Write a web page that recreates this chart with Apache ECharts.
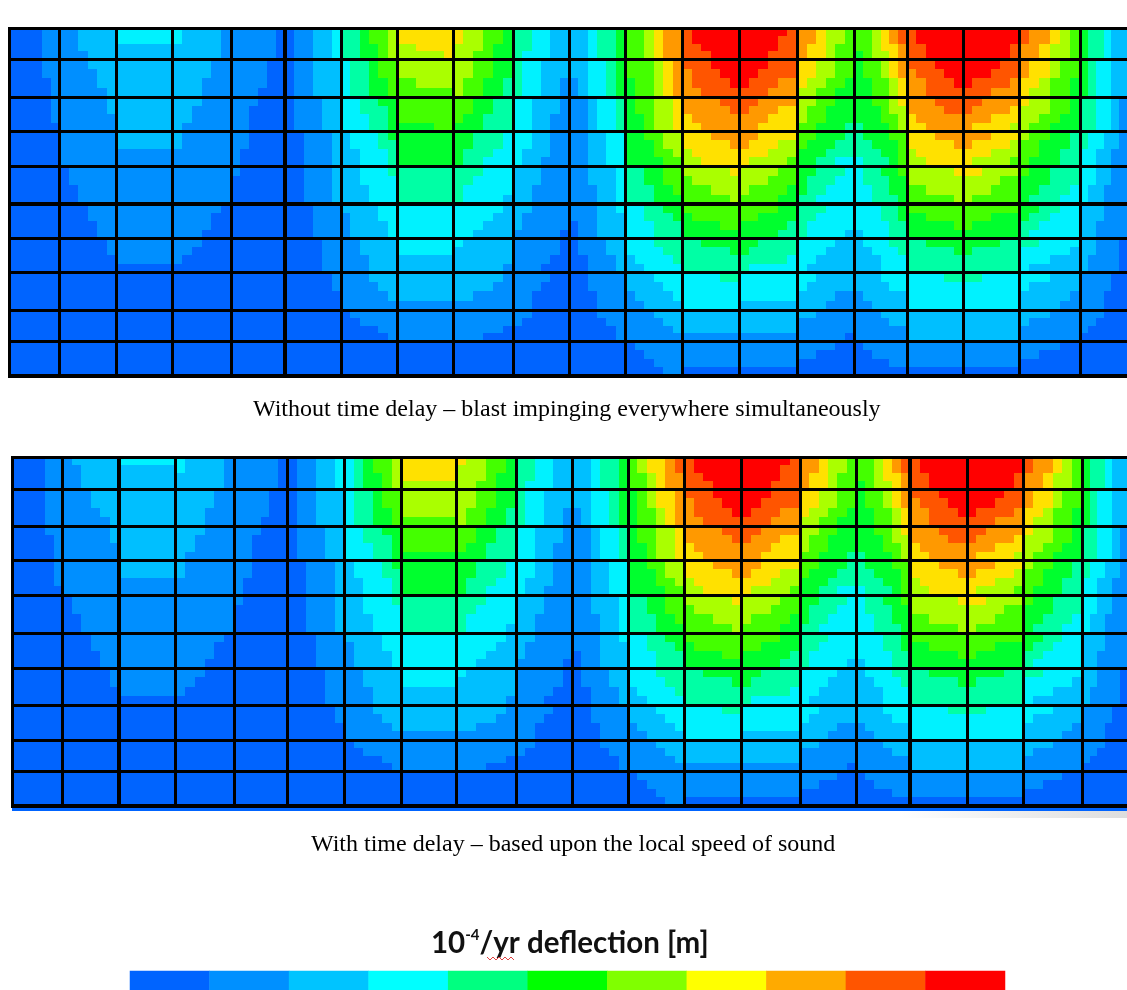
<!DOCTYPE html>
<html><head><meta charset="utf-8">
<style>html,body{margin:0;padding:0;background:#fff}#c{width:1127px;height:990px}</style>
<script src="https://cdn.jsdelivr.net/npm/echarts@6/dist/echarts.min.js"></script>
</head><body><div id="c"></div>
<script>
// Band palette of the contour plots (level 0..11, written base 12 in the rows below)
const bandColors=['#0064ff','#008fff','#00bfff','#00f2ff','#00ffa5','#00ff2e','#44ff00','#aaff00','#ffe100','#ff9900','#ff5500','#ff0000'];
const legendColors=['#0064ff','#0090ff','#00c4ff','#00ffff','#00ff80','#00ff00','#80ff00','#ffff00','#ffaa00','#ff5500','#ff0000'];
const legendTitle=['10','-4','/yr deflection [m]'];
const captionTop='Without time delay – blast impinging everywhere simultaneously';
const captionBottom='With time delay – based upon the local speed of sound';
// Mesh lines along the span and the depth
const meshXTop=[0,50,107,163,222,276,332,388,444,504,560,616,673,730,788,845,898,954,1010,1071,1118];
const meshYTop=[0,31,69,103,138,176,210,244,282,313,348];
const meshXBottom=[0,50,107,163,222,275,332,389,444,504,560,616,672,729,788,844,898,955,1011,1070,1115];
const meshYBottom=[0,32,69,103,138,176,211,248,283,314,349,354];
// Bands per mesh cell: four sub-rows of six samples (one token = same for every sub-row, one char = whole cell)
const topRow0=['000011','112222 112222 112222 111222','333333 333333 222222 222222','322221 322221 222221 222221','111110','011223','445667 445667 445567 445567','8 8 778888 777778','877665 877665 777655 776655','443322 443322 443322 433322','223445','667899','abbbbb abbbbb aabbbb aaabbb','bbbbba bbbbaa bbbbaa bbbaaa','998776 998776 988766 988766','66789a 66789a 667889 567789','abbbbb abbbbb aabbbb aabbbb','b b bbbbba bbbbba','a99876 a99876 998776 998776','544322'];
const topRow1=['000011 000011 000001 000001','111222 111122 111122 111112','2','222211 222211 222111 222111','111100 111100 111100 111000','011222','344566 344566 344556 344556','7 7 667777 6','776655 776655 766554 766554','433222 433222 433221 433221','223345 223345 123345 123345','666789 666789 566789 566789','aaabbb 9aaabb 9aaaab 99aaaa','bbbaaa bbaaaa baaa99 aaa999','887766 887766 877665 776655','566789 566789 556678 556678','aaabbb 9aaabb 99aaab 99aaaa','bbbbaa bbbaaa baaaa9 aaa999','988766 988766 887665 877665','543322'];
const topRow2=['000001 000001 000001 0','111112 111112 1 1','2','222111 221111 221111 211111','111000 110000 110000 110000','011122','334455 334445 333445 333445','6 6 6 555566','665544 665544 655444 555444','332221 332221 332211 332211','112334','566778 566778 556778 556778','9999aa 99999a 899999 889999','aa9999 a99988 999888 998888','776655 766555 766555 665554','556678 555677 555667 455567','999aaa 9999aa 899999 889999','aa9999 a99998 999888 988887','877665 777665 776655 766555','443321'];
const topRow3=['0','1','2 2 1 1','211111 211111 1 1','110000 110000 100000 100000','001112','233345 233344 223334 223334','5','554443 554443 544433 544333','332211 332211 322211 322111','112233','556677 555677 555667 555566','888999 888889 788888 778888','998888 988877 888777 877776','665554 655544 555444 554433','455566 445556 444556 344456','888999 888889 788888 778888','999888 988887 888777 877776','766554 665554 665544 655544','433221 433221 332211 332211'];
const topRow4=['0','011111 011111 001111 001111','1','1','100000 0 0 0','001112','223334 223333 222333 222333','4','444333 443333 433333 433332','222111 222111 221111 221111','112223 112223 111223 111223','445566 445566 444556 444555','777778 677777 666777 666667','777766 777666 766665 666655','554443 544433 544333 443333','344556 344455 334455 334445','777778 7 667777 666667','887777 777766 777666 766666','655444 555444 554443 544433','332211 332211 322111 322111'];
const topRow5=['0','000111 000111 000011 000011','1','111110 111100 111100 111000','0','000111','222233 122233 122223 122223','3','333332 333322 333222 332222','221111 211111 211111 111110','111223 111222 011222 011222','334455 334445 333444 333444','6 566666 555566 5','666655 665555 555554 555544','444333 443333 433333 433332','333445 333445 333344 233344','6 556666 555556 5','6 666555 655555 5','554433 544333 443333 433333','222111 222111 221111 221111'];
const topRow6=['0','000001 000001 0 0','1 1 1 0','111000 110000 100000 0','0','000011','112222 112222 111222 111222','3 3 2 2','322222 2 2 222221','111110 111110 111100 111000','011122 011122 001112 001112','333444 333344 233334 223333','445555 444445 4 4','554444 544444 444443 433333','333322 333222 332222 322222','233344 223334 222333 222333','445555 444445 4 4','555544 544444 4 4','443333 333332 333222 322222','221110 221110 211110 211110'];
const topRow7=['0','0','0','0','0','000001 000001 0 0','111222 111122 111112 1','2 2 2 1','222221 222211 221111 1','111100 111000 110000 110000','001111 001111 000111 000111','222333 222233 122223 112222','333344 3 3 3','3 3 3 2','332222 322222 222211 222111','222333 222233 122222 112222','333344 3 3 3','443333 3 3 3','333222 322222 222221 222211','111100 111100 111000 111000'];
const topRow8=['0','0','0','0','0','0','011111 001111 000011 000001','1','1 1 111110 111000','110000 100000 0 0','000111 000011 000001 000001','111222 111122 111112 1','2 2 2 1','2 2 2 1','221111 1 1 111110','111222 111122 1 1','2','2','222111 211111 1 1','111000 110000 100000 0'];
const topRow9=['0','0','0','0','0','0','0','0','0','0','0','011111 001111 000111 000011','1 1 1 0','1 1 1 0','111100 110000 0 0','011111 001111 000011 0','1 1 1 0','1 1 1 0','111100 110000 0 0','0'];
const bottomRow0=['000011','122222 112222 112222 112222','333333 2 2 2','322221 322221 222221 222221','111110','011223','345667 345667 345567 345567','8 8 8 7','877665 777665 777655 776655','443322 443322 443322 433322','223445','67889a 67889a 667899 667899','abbbbb abbbbb aabbbb aaabbb','bbbbba bbbbaa bbbbaa bbbaaa','998776 998776 988766 988766','66789a 66789a 667889 567789','abbbbb abbbbb aabbbb aabbbb','b b bbbbba bbbbba','a99876 a99876 998776 998776','544322'];
const bottomRow1=['000011','111222 111222 111122 111112','2','222211 222211 222111 222111','111100 111100 111100 111000','011222','344566 344566 344556 344556','7 7 7 6','776655 776655 766554 766554','433222 433222 433221 433221','223345 223345 123345 123345','567889 567889 566789 566789','aaabbb 9aaabb 9aaaab 99aaaa','bbbaaa bbaaaa baaa99 aaa999','887766 887766 877665 776655','566789 566789 556678 556678','aaabbb 9aaabb 99aaab 99aaaa','bbbbaa bbbaaa baaaa9 aaa999','988766 988766 887665 877665','543322'];
const bottomRow2=['000011 000001 000001 000001','111112 111112 1 1','2','222111 221111 221111 211111','111000 110000 110000 110000','011122','334455 334445 333445 333445','6 6 6 5','665544 665544 655444 555444','332221 332221 332211 332211','112334','566778 566778 556778 556778','9999aa 99999a 899999 889999','aa9999 a99988 999888 998888','776655 766555 766555 665554','556678 555677 555667 455567','999aaa 9999aa 899999 889999','aa9999 a99998 999888 988887','877665 777665 776655 766555','443321'];
const bottomRow3=['000001 000001 000001 0','1','2 2 1 1','211111 211111 1 1','110000 110000 100000 100000','001112','233345 233344 223334 223334','5','554443 554443 544433 544333','332211 332211 322211 322111','112233','556677 555677 555667 555566','888999 888889 788888 778888','998888 988877 888777 877776','665554 655544 555444 554433','455566 445556 444556 344456','888999 888889 788888 778888','999888 988887 888777 877776','766554 665554 665544 655544','433221 433221 332211 332211'];
const bottomRow4=['0','011111 011111 001111 001111','1','1','100000 0 0 0','001112','223334 223333 222333 222333','4','444333 443333 433333 433332','222111 222111 221111 221111','112223 112223 111223 111223','445566 445566 444556 444555','777778 677777 666777 666667','777766 777666 766665 666655','554443 544433 544333 443333','344556 344455 334455 334445','777778 7 667777 666667','887777 777766 777666 766666','655444 555444 554443 544433','332211 332211 322111 322111'];
const bottomRow5=['0','000111 000111 000011 000011','1','111110 111100 111100 111000','0','000111','222233 122233 122223 122223','3','333332 333322 333222 332222','221111 211111 211111 111110','111223 111222 011222 011222','334455 334445 333444 333444','6 566666 555566 5','666655 665555 555554 555544','444333 443333 433333 433332','333445 333445 333344 233344','6 556666 555556 5','6 666555 655555 5','554433 544333 443333 433333','222111 222111 221111 221111'];
const bottomRow6=['0','000001 000001 0 0','1 1 1 0','111000 110000 100000 0','0','000011','112222 112222 111222 111222','3 3 2 2','322222 2 2 222221','111110 111110 111100 111000','011122 011122 001112 001112','333444 333344 233334 223333','445555 444445 4 4','554444 544444 444443 433333','333322 333222 332222 322222','233344 223334 222333 222333','445555 444445 4 4','555544 544444 4 4','443333 333332 333222 322222','221110 221110 211110 211110'];
const bottomRow7=['0','0','0','0','0','000001 000001 0 0','111222 111122 111112 1','2 2 2 1','222221 222211 221111 1','111100 111000 110000 110000','001111 001111 000111 000111','222333 222233 122223 112222','333344 3 3 3','3 3 3 2','332222 322222 222211 222111','222333 222233 122222 112222','333344 3 3 3','443333 3 3 3','333222 322222 222221 222211','111100 111100 111000 111000'];
const bottomRow8=['0','0','0','0','0','0','011111 001111 000011 000001','1','1 1 111110 111000','110000 100000 0 0','000111 000011 000001 000001','111222 111122 111112 1','2 2 2 1','2 2 2 1','221111 1 1 111110','111222 111122 1 1','2','2','222111 211111 1 1','111000 110000 100000 0'];
const bottomRow9=['0','0','0','0','0','0','0','0','0','0','0','011111 001111 000111 000011','1 1 1 0','1 1 1 0','111100 110000 0 0','011111 001111 000011 0','1 1 1 0','1 1 1 0','111100 110000 0 0','0'];
const bottomEdgeRow=['0','0','0','0','0','0','0','0','0','0','0','0','0','0','0','0','0','0','0','0'];

const fieldTop=[topRow0,topRow1,topRow2,topRow3,topRow4,topRow5,topRow6,topRow7,topRow8,topRow9];
const fieldBottom=[bottomRow0,bottomRow1,bottomRow2,bottomRow3,bottomRow4,bottomRow5,bottomRow6,bottomRow7,bottomRow8,bottomRow9,bottomEdgeRow];

function cellItems(field,mx,my){
  const out=[];
  field.forEach((row,r)=>row.forEach((cell,c)=>{
    let t=cell.split(' '); if(t.length===1)t=[t[0],t[0],t[0],t[0]];
    t.forEach((s,sr)=>{
      if(s.length===1)s=s.repeat(6);
      for(let sc=0;sc<6;sc++){
        const w=(mx[c+1]-mx[c])/6,h=(my[r+1]-my[r])/4;
        out.push([mx[c]+sc*w,mx[c]+(sc+1)*w,my[r]+sr*h,my[r]+(sr+1)*h,parseInt(s[sc],12)]);
      }
    });
  }));
  return out;
}
const renderCell=(p,api)=>{
  const a=api.coord([api.value(0),api.value(2)]),b=api.coord([api.value(1),api.value(3)]);
  const x=Math.round(a[0]),y=Math.round(a[1]);
  return {type:'rect',shape:{x,y,width:Math.round(b[0])-x,height:Math.round(b[1])-y},style:{fill:bandColors[api.value(4)]}};
};
// item: [orientation (0 vertical, 1 horizontal), position, from, to, line weight]
const renderMesh=(p,api)=>{
  const v=api.value(0)===0,w=api.value(4);
  const a=v?api.coord([api.value(1),api.value(2)]):api.coord([api.value(2),api.value(1)]);
  const b=v?api.coord([api.value(1),api.value(3)]):api.coord([api.value(3),api.value(1)]);
  const off=w%2?0.5:0;
  return {type:'line',shape:v?{x1:Math.round(a[0])+off,y1:a[1],x2:Math.round(a[0])+off,y2:b[1]}:{x1:a[0]-1,y1:Math.round(a[1])+off,x2:b[0],y2:Math.round(a[1])+off},style:{stroke:'#000',lineWidth:w}};
};
function meshItems(mx,my,xn,yn,heavyX,heavyY){
  const d=[];
  mx.slice(0,xn).forEach(x=>d.push([0,x,0,my[yn-1],heavyX.includes(x)?4:3]));
  my.slice(0,yn).forEach(y=>d.push([1,y,0,mx[mx.length-1],heavyY.includes(y)?4:3]));
  return d;
}
const xa=(max,gi,ticks)=>({type:'value',gridIndex:gi,min:0,max,show:!!ticks,position:'bottom',axisLine:{show:false},axisLabel:{show:false},splitLine:{show:false},
  axisTick:ticks?{show:true,customValues:ticks,length:6,lineStyle:{color:'#dcdcdc',width:3}}:{show:false}});
const ya=(max,gi)=>({type:'value',gridIndex:gi,min:0,max,inverse:true,show:false,splitLine:{show:false}});
const serif='"Liberation Serif"';
const chart=echarts.init(document.getElementById('c'),null,{renderer:'canvas'});
chart.setOption({
  animation:false,backgroundColor:'#fff',
  grid:[
    {left:9,top:28,width:1118,height:348},
    {left:12,top:457,width:1115,height:354},
    {left:130,top:971,width:875,height:19}
  ],
  xAxis:[xa(1118,0,[50,107,163,222,332,388,444,504]),xa(1115,1),
    {type:'category',gridIndex:2,data:legendColors.map((c,i)=>i),show:false}],
  yAxis:[ya(348,0),ya(354,1),{type:'category',gridIndex:2,data:[0],show:false}],
  visualMap:{show:false,type:'piecewise',seriesIndex:4,dimension:2,pieces:legendColors.map((color,i)=>({value:i,color}))},
  series:[
    {type:'custom',xAxisIndex:0,yAxisIndex:0,renderItem:renderCell,data:cellItems(fieldTop,meshXTop,meshYTop),encode:{x:[0,1],y:[2,3]},clip:false,silent:true,z:1},
    {type:'custom',xAxisIndex:0,yAxisIndex:0,renderItem:renderMesh,data:meshItems(meshXTop,meshYTop,20,11,[276],[176,348]),clip:false,silent:true,z:2},
    {type:'custom',xAxisIndex:1,yAxisIndex:1,renderItem:renderCell,data:cellItems(fieldBottom,meshXBottom,meshYBottom),encode:{x:[0,1],y:[2,3]},clip:false,silent:true,z:1},
    {type:'custom',xAxisIndex:1,yAxisIndex:1,renderItem:renderMesh,data:meshItems(meshXBottom,meshYBottom,20,11,[107,898],[349]),clip:false,silent:true,z:2},
    {type:'heatmap',xAxisIndex:2,yAxisIndex:2,data:legendColors.map((c,i)=>[i,0,i]),silent:true,emphasis:{disabled:true}}
  ],
  graphic:[
    {type:'text',left:253,top:398,style:{text:captionTop,fontFamily:serif,fontSize:24,fill:'#000'}},
    {type:'text',left:311,top:833,style:{text:captionBottom,fontFamily:serif,fontSize:24,fill:'#000'}},
    {type:'text',left:431,top:928,style:{
      text:'{a|'+legendTitle[0]+'}{s|'+legendTitle[1]+'}{a|'+legendTitle[2]+'}',
      rich:{a:{fontFamily:'Lato',fontWeight:'bold',fontSize:29.5,fill:'#111',verticalAlign:'bottom',lineHeight:30},
            s:{fontFamily:'Lato',fontWeight:'bold',fontSize:15,fill:'#111',verticalAlign:'top',lineHeight:30}}}},
    {type:'polyline',shape:{points:[[487,957],[490,960],[493,957],[496,960],[499,957],[502,960],[505,957],[508,960],[511,957],[514,960]]},style:{stroke:'#e04040',lineWidth:1,fill:null}},
    {type:'rect',shape:{x:900,y:811,width:227,height:7},style:{fill:new echarts.graphic.LinearGradient(0,0,1,0,[{offset:0,color:'#ffffff'},{offset:1,color:'#dddddd'}])}}
  ]
});
</script></body></html>
